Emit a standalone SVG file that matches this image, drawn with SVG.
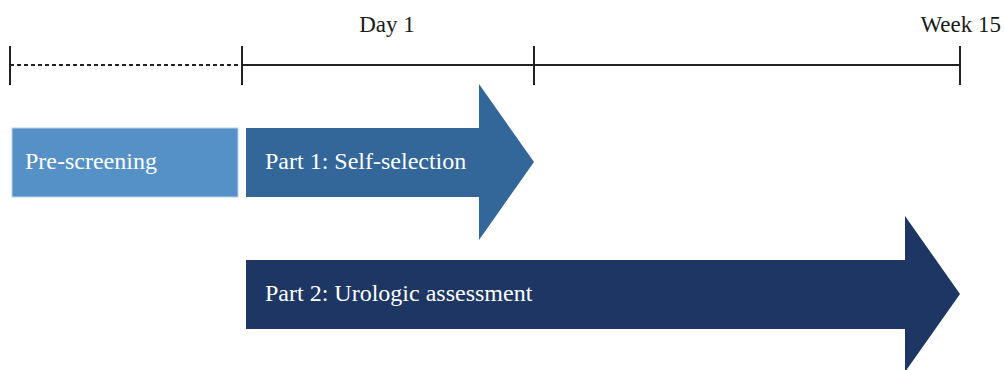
<svg xmlns="http://www.w3.org/2000/svg" width="1004" height="370" viewBox="0 0 1004 370">
<style>
.lbl{font-family:"Liberation Serif","Times New Roman",serif;font-size:23px;fill:#1a1a1a}
.box{font-family:"Liberation Serif","Times New Roman",serif;font-size:24px;fill:#ffffff}
.tl{stroke:#222;stroke-width:2;fill:none}
</style>
<rect width="1004" height="370" fill="#ffffff"/>
<g id="timeline">
<line class="tl" x1="10" y1="65" x2="242" y2="65" stroke-dasharray="4,3"/>
<line class="tl" x1="242" y1="65" x2="960" y2="65"/>
<line class="tl" x1="10" y1="46" x2="10" y2="85"/>
<line class="tl" x1="242" y1="46" x2="242" y2="85"/>
<line class="tl" x1="534" y1="46" x2="534" y2="85"/>
<line class="tl" x1="960" y1="46" x2="960" y2="85"/>
<text class="lbl" x="387" y="32" text-anchor="middle">Day 1</text>
<text class="lbl" x="1001" y="32" text-anchor="end">Week 15</text>
</g>
<g id="prescreening">
<rect x="12" y="128" width="226" height="69" fill="#5591c7" stroke="#b9d3ea" stroke-width="1"/>
<text class="box" x="25" y="169">Pre-screening</text>
</g>
<g id="part1">
<polygon points="246,128 479,128 479,84 534,162 479,240 479,197 246,197" fill="#336699"/>
<text class="box" x="265" y="169">Part 1: Self-selection</text>
</g>
<g id="part2">
<polygon points="246,260 905,260 905,216 960,294 905,372 905,329 246,329" fill="#1d3664"/>
<text class="box" x="265" y="301">Part 2: Urologic assessment</text>
</g>
<g id="connectors"></g>
</svg>
